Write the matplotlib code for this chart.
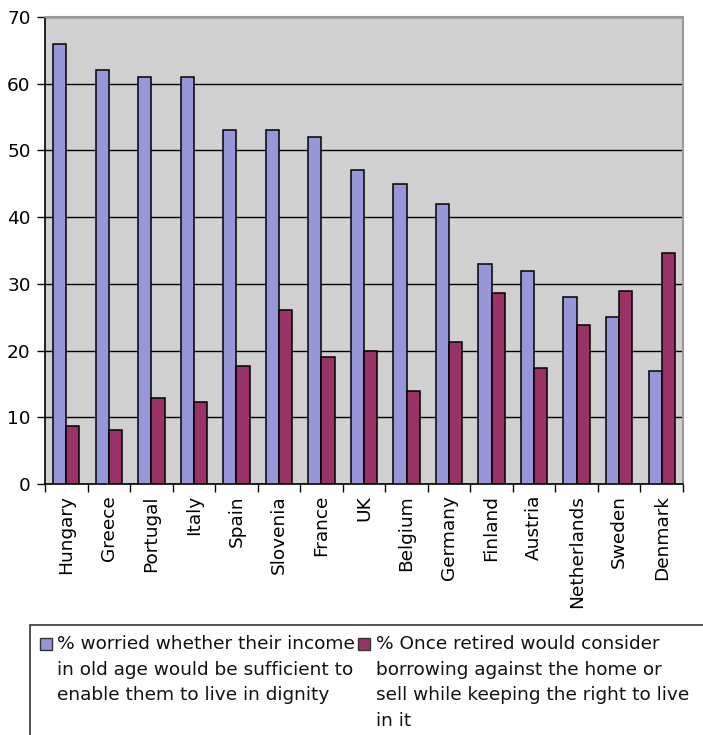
import numpy as np
import matplotlib
matplotlib.use("Agg")
import matplotlib.pyplot as plt
from matplotlib.patches import Rectangle

countries = ["Hungary", "Greece", "Portugal", "Italy", "Spain", "Slovenia", "France",
             "UK", "Belgium", "Germany", "Finland", "Austria", "Netherlands", "Sweden", "Denmark"]
worried = [66, 62, 61, 61, 53, 53, 52, 47, 45, 42, 33, 32, 28, 25, 17]
borrow = [8.7, 8.1, 12.9, 12.3, 17.7, 26.1, 19.1, 20.0, 14.0, 21.3, 28.7, 17.4, 23.9, 29.0, 34.6]
y_ticks = [0, 10, 20, 30, 40, 50, 60, 70]

label_worried = ("% worried whether their income\nin old age would be sufficient to\n"
                 "enable them to live in dignity")
label_borrow = ("% Once retired would consider\nborrowing against the home or\n"
                "sell while keeping the right to live\nin it")

blue = "#9696d8"
plum = "#993366"
FS = 13.3

W, H = 703, 735
fig = plt.figure(figsize=(W / 100, H / 100), dpi=100)
plt.rcParams["font.family"] = ["DejaVu Sans"]

# plot area in pixel coordinates
left, right, top, bottom = 45, 683, 17, 484
ax = fig.add_axes([left / W, 1 - bottom / H, (right - left) / W, (bottom - top) / H])
ax.set_facecolor("#d0d0d0")

x = np.arange(len(countries))
bw = 0.31
ax.bar(x - bw, worried, width=bw, align="edge", color=blue, edgecolor="black",
       linewidth=1.1, zorder=3)
ax.bar(x, borrow, width=bw, align="edge", color=plum, edgecolor="black",
       linewidth=1.1, zorder=3)

ax.set_xlim(-0.5, len(countries) - 0.5)
ax.set_ylim(0, 70)
ax.set_yticks(y_ticks)
ax.set_yticklabels([str(v) for v in y_ticks], fontsize=FS)
ax.yaxis.grid(True, color="black", linewidth=1.0, zorder=1)
ax.set_axisbelow(True)
ax.tick_params(axis="y", direction="out", length=5.8, width=1.0, pad=4.5, colors="black")

# category boundaries carry the tick marks, names sit at the centres
ax.set_xticks(np.arange(-0.5, len(countries), 1.0))
ax.set_xticklabels([])
ax.tick_params(axis="x", which="major", direction="out", length=5.8, width=1.0)
ax.set_xticks(x, minor=True)
ax.set_xticklabels(countries, minor=True, rotation=90, fontsize=FS, ha="center", va="top")
ax.tick_params(axis="x", which="minor", length=0, pad=8)

for s in ("left", "bottom"):
    ax.spines[s].set_color("black")
    ax.spines[s].set_linewidth(1.2)
for s in ("top", "right"):
    ax.spines[s].set_color("#9a9a9a")
    ax.spines[s].set_linewidth(1.5)

# legend box, running past the right and bottom edges of the figure
frame = Rectangle((30 / W, -0.1), 1.0, 1.1 - 625 / H, transform=fig.transFigure,
                  facecolor="white", edgecolor="#444444", linewidth=1.3)
fig.add_artist(frame)
for (mx, col, tx, lab) in [(40, blue, 57, label_worried), (358, plum, 376, label_borrow)]:
    fig.add_artist(Rectangle((mx / W, 1 - 650 / H), 12 / W, 12 / H, transform=fig.transFigure,
                             facecolor=col, edgecolor="#333333", linewidth=1.0))
    fig.text(tx / W, 1 - 635 / H, lab, fontsize=FS, ha="left", va="top",
             linespacing=1.55, color="#111111")

fig.savefig("out.png", dpi=100)
